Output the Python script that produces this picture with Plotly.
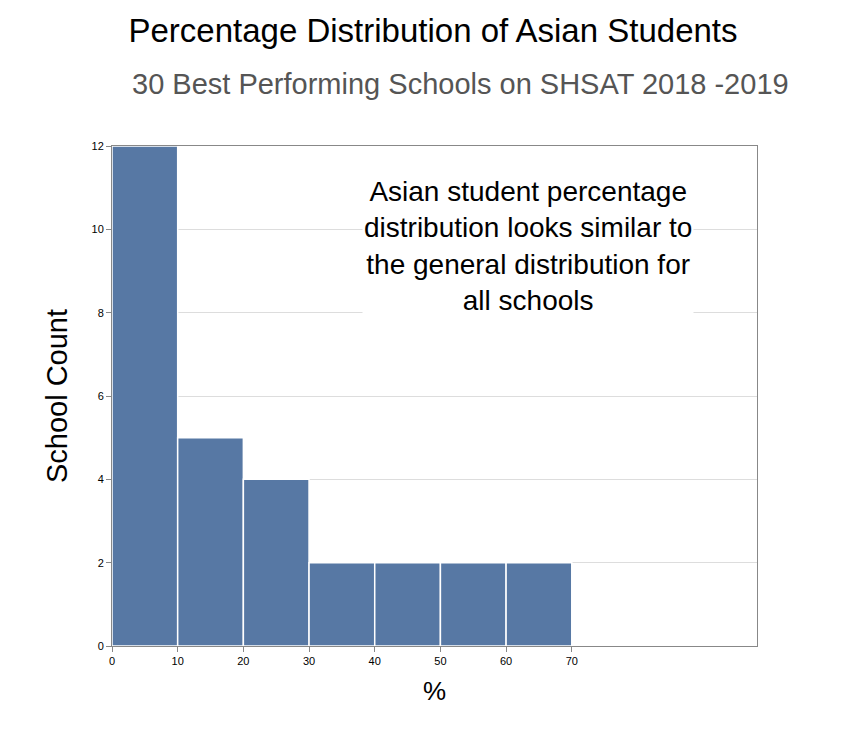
import plotly.graph_objects as go

bin_starts = [0, 10, 20, 30, 40, 50, 60]
counts = [12, 5, 4, 2, 2, 2, 2]
bin_width = 10
x_ticks = [0, 10, 20, 30, 40, 50, 60, 70]
y_ticks = [0, 2, 4, 6, 8, 10, 12]

fig = go.Figure(go.Bar(
    x=[s + bin_width / 2 for s in bin_starts], y=counts, width=bin_width,
    marker=dict(color="#5778a4", line=dict(color="white", width=1.5)),
))
fig.update_layout(
    width=850, height=734, plot_bgcolor="white", paper_bgcolor="white",
    margin=dict(l=104, r=101, t=138, b=96), showlegend=False,
    font=dict(family="Liberation Sans, Arial", color="black"),
    title=dict(text="Percentage Distribution of Asian Students", x=0.5, xanchor="center",
               y=0.985, yanchor="top", font=dict(size=33)),
    annotations=[
        dict(text="30 Best Performing Schools on SHSAT 2018 -2019", xref="paper", yref="paper",
             x=0.54, y=1.0, yshift=80, showarrow=False, font=dict(size=29, color="#555555")),
        dict(text="Asian student percentage<br>distribution looks similar to<br>the general distribution for<br>all schools",
             xref="x", yref="y", x=63.3, y=9.6, showarrow=False, bgcolor="white",
             font=dict(size=28), align="center"),
    ],
)
fig.update_xaxes(range=[0, 98.2], tickvals=x_ticks, ticks="outside", ticklen=5, tickcolor="#888",
                 showgrid=False, showline=True, linecolor="#888", mirror=True,
                 tickfont=dict(size=11), title=dict(text="%", font=dict(size=26)))
fig.update_yaxes(range=[0, 12], tickvals=y_ticks, ticks="outside", ticklen=5, tickcolor="#888",
                 showgrid=True, gridcolor="#dddddd", showline=True, linecolor="#888", mirror=True,
                 tickfont=dict(size=11), title=dict(text="School Count", font=dict(size=29)), layer="below traces")
fig.write_html("out.html")
